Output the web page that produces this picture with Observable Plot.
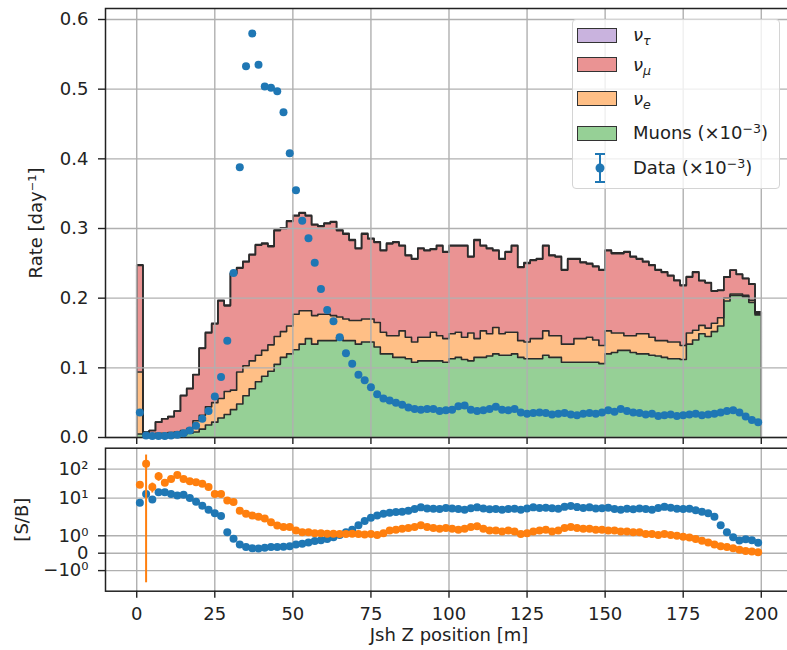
<!DOCTYPE html>
<html><head><meta charset="utf-8">
<script src="https://cdn.jsdelivr.net/npm/d3@7"></script>
<script src="https://cdn.jsdelivr.net/npm/@observablehq/plot@0.6"></script>
<style>
body{margin:0;background:#fff;}
#wrap{position:relative;width:787px;height:650px;overflow:hidden;font-family:"DejaVu Sans",sans-serif;color:#222;}
#bot,#top{position:absolute;left:0;width:800px;}
#top{top:0;}
#bot{top:440px;}
#legend{position:absolute;left:572px;top:19px;width:206px;height:168px;border:1px solid #d4d4d4;border-radius:4px;background:rgba(255,255,255,0.8);}
#legend .row{position:absolute;left:0;height:0;}
#legend .sw{position:absolute;left:4px;top:-7.5px;width:40px;height:15px;border:1.5px solid #333;box-sizing:border-box;}
#legend .lab{position:absolute;left:60px;top:-12px;line-height:24px;white-space:nowrap;font-size:18px;}
#legend sub{font-size:0.7em;vertical-align:-0.3em;line-height:0;}
#legend sup{font-size:0.7em;vertical-align:0.5em;line-height:0;}
</style></head><body>
<div id="wrap"><div id="bot"></div><div id="top"></div>
<div id="legend">
  <div class="row" style="top:15px"><div class="sw" style="background:#c9b3de"></div><div class="lab"><i>ν</i><sub><i>τ</i></sub></div></div>
  <div class="row" style="top:44.5px"><div class="sw" style="background:#ea9393"></div><div class="lab"><i>ν</i><sub><i>μ</i></sub></div></div>
  <div class="row" style="top:78.5px"><div class="sw" style="background:#ffbf86"></div><div class="lab"><i>ν</i><sub><i>e</i></sub></div></div>
  <div class="row" style="top:113px"><div class="sw" style="background:#96d096"></div><div class="lab">Muons (×10<sup>−3</sup>)</div></div>
  <div class="row" style="top:148px">
    <svg style="position:absolute;left:17px;top:-16px" width="20" height="32"><line x1="10" y1="2" x2="10" y2="30" stroke="#1f77b4" stroke-width="2"/><line x1="5" y1="2" x2="15" y2="2" stroke="#1f77b4" stroke-width="2"/><line x1="5" y1="30" x2="15" y2="30" stroke="#1f77b4" stroke-width="2"/><circle cx="10" cy="16" r="4.5" fill="#1f77b4"/></svg>
    <div class="lab">Data (×10<sup>−3</sup>)</div></div>
</div>
</div>
<script>
// ---- data (100 bins of 2 m from 0 to 200 m) ----
const binEdges = d3.range(0, 202, 2);
const binCenters = d3.range(1, 200, 2);
const xTicks = [0, 25, 50, 75, 100, 125, 150, 175, 200];
const rateTicks = [0, 0.1, 0.2, 0.3, 0.4, 0.5, 0.6];
const sbTicks = [-1, 0, 1, 10, 100];
const sbTickLabels = ["−10⁰", "0", "10⁰", "10¹", "10²"];

const muons = [0.005,0.002,0.002,0.002,0.002,0.003,0.003,0.004,0.006,0.008,
 0.012,0.018,0.022,0.028,0.033,0.040,0.048,0.060,0.070,0.080,
 0.088,0.095,0.105,0.115,0.120,0.126,0.134,0.142,0.134,0.139,
 0.139,0.139,0.144,0.139,0.139,0.134,0.137,0.137,0.130,0.120,
 0.120,0.115,0.115,0.113,0.108,0.110,0.110,0.110,0.110,0.108,
 0.113,0.115,0.112,0.110,0.115,0.115,0.117,0.120,0.118,0.118,
 0.120,0.115,0.113,0.113,0.113,0.118,0.115,0.115,0.108,0.108,
 0.108,0.108,0.108,0.108,0.106,0.120,0.122,0.125,0.125,0.122,
 0.120,0.120,0.118,0.117,0.115,0.113,0.113,0.112,0.134,0.140,
 0.149,0.145,0.152,0.160,0.196,0.204,0.204,0.202,0.194,0.176];
const nuE = [0.089,0.003,0.003,0.004,0.004,0.004,0.005,0.006,0.007,0.016,
 0.020,0.026,0.028,0.028,0.033,0.028,0.046,0.043,0.040,0.038,
 0.037,0.038,0.040,0.037,0.040,0.051,0.048,0.040,0.041,0.038,
 0.038,0.036,0.029,0.031,0.029,0.034,0.033,0.033,0.035,0.031,
 0.026,0.031,0.038,0.031,0.029,0.034,0.034,0.041,0.036,0.034,
 0.036,0.036,0.032,0.040,0.027,0.038,0.032,0.038,0.031,0.033,
 0.031,0.024,0.024,0.029,0.029,0.035,0.031,0.031,0.026,0.026,
 0.034,0.034,0.036,0.032,0.026,0.033,0.028,0.025,0.021,0.024,
 0.029,0.029,0.026,0.022,0.024,0.024,0.024,0.020,0.016,0.014,
 0.012,0.012,0.012,0.012,0.004,0.002,0.002,0.002,0.003,0.002];
const nuMu = [0.153,0.003,0.005,0.016,0.021,0.023,0.030,0.050,0.057,0.066,
 0.096,0.106,0.113,0.140,0.123,0.167,0.149,0.149,0.152,0.158,
 0.153,0.141,0.152,0.148,0.150,0.141,0.140,0.136,0.130,0.126,
 0.130,0.134,0.124,0.122,0.115,0.103,0.122,0.115,0.115,0.117,
 0.132,0.134,0.122,0.117,0.119,0.127,0.124,0.119,0.129,0.124,
 0.126,0.124,0.131,0.109,0.141,0.122,0.122,0.110,0.107,0.115,
 0.124,0.105,0.113,0.112,0.114,0.122,0.115,0.113,0.106,0.122,
 0.114,0.109,0.105,0.105,0.108,0.115,0.114,0.114,0.120,0.113,
 0.107,0.103,0.103,0.101,0.098,0.095,0.088,0.086,0.080,0.083,
 0.064,0.065,0.046,0.039,0.030,0.034,0.028,0.024,0.023,0.002];
const nuTau = [0.001,0,0,0,0,0,0,0.0005,0.0005,0.0005,
 0.0005,0.001,0.001,0.001,0.001,0.001,0.001,0.001,0.001,0.001,
 0.001,0.001,0.001,0.001,0.001,0.001,0.001,0.001,0.001,0.001,
 0.001,0.001,0.001,0.001,0.001,0.001,0.001,0.001,0.001,0.001,
 0.001,0.001,0.001,0.001,0.001,0.001,0.001,0.001,0.001,0.001,
 0.001,0.001,0.001,0.001,0.001,0.001,0.001,0.001,0.001,0.001,
 0.001,0.001,0.001,0.001,0.001,0.001,0.001,0.001,0.001,0.001,
 0.001,0.001,0.001,0.001,0.001,0.001,0.001,0.001,0.001,0.001,
 0.001,0.001,0.001,0.001,0.001,0.001,0.001,0.001,0.001,0.001,
 0.0005,0.0005,0.0005,0.0005,0.0005,0.0005,0.0005,0.0005,0.0005,0.0005];
const dataRate = [0.036,0.003,0.002,0.002,0.002,0.003,0.004,0.006,0.010,0.017,
 0.027,0.038,0.059,0.087,0.139,0.236,0.388,0.533,0.580,0.535,
 0.504,0.502,0.497,0.467,0.408,0.355,0.311,0.286,0.251,0.213,
 0.183,0.167,0.144,0.121,0.106,0.090,0.082,0.072,0.062,0.056,
 0.053,0.050,0.047,0.043,0.041,0.040,0.041,0.041,0.038,0.039,
 0.040,0.045,0.046,0.040,0.038,0.039,0.041,0.044,0.040,0.039,
 0.041,0.036,0.034,0.035,0.036,0.035,0.033,0.034,0.035,0.033,
 0.032,0.034,0.035,0.034,0.036,0.039,0.037,0.041,0.038,0.036,
 0.035,0.033,0.034,0.031,0.032,0.033,0.031,0.032,0.033,0.034,
 0.032,0.033,0.034,0.036,0.038,0.039,0.036,0.030,0.025,0.022];
const sbBlue = [6.9,14,9,16,16,14,12.4,13,10,7.5,
 5.5,4.0,3.0,2.4,1.2,0.83,0.5,0.35,0.28,0.27,
 0.32,0.35,0.36,0.37,0.4,0.5,0.55,0.62,0.7,0.75,
 0.82,0.92,1.05,1.2,1.35,1.6,1.85,2.1,2.5,2.9,
 3.1,3.3,3.4,3.7,4.2,4.8,4.4,4.3,4.2,4.6,
 4.4,4.2,4.0,4.5,4.8,4.4,4.1,4.2,4.0,4.2,
 4.3,4.0,4.4,4.8,4.6,4.7,4.5,4.3,5.0,5.4,
 4.9,4.6,4.8,4.4,4.5,4.7,4.2,4.0,4.3,4.1,
 4.4,4.2,4.0,4.6,5.0,4.7,4.3,4.2,4.3,3.8,
 3.4,3.0,2.3,1.6,1.2,0.92,0.73,0.8,0.75,0.6];
const sbBlueErr = [1,3,1.5,2,1.5,1,1,1,0.5,0.4];
const sbOrange = [29,152,24,57,34,46,63,46,38,35,
 31,24,14,14,8.3,7.3,3.7,2.9,2.5,2.3,
 2.0,1.78,1.59,1.5,1.5,1.3,1.2,1.2,1.15,1.15,
 1.12,1.12,1.1,1.1,1.12,1.1,1.08,1.1,1.05,1.15,
 1.3,1.35,1.4,1.45,1.5,1.6,1.5,1.45,1.4,1.45,
 1.4,1.35,1.4,1.5,1.55,1.4,1.3,1.3,1.25,1.3,
 1.25,1.1,1.15,1.25,1.3,1.35,1.25,1.3,1.45,1.5,
 1.45,1.4,1.4,1.35,1.35,1.3,1.3,1.25,1.25,1.2,
 1.2,1.1,1.1,1.05,1.1,1.05,1.0,0.95,0.9,0.82,
 0.72,0.62,0.5,0.4,0.35,0.28,0.2,0.12,0.1,0.05];
const sbOrangeErr = [4,153.7,9,19,6,6,7,4,3,3];

// ---- derived tables ----
const layerNames = ["Muons", "nue", "numu", "nutau"];
const layerValues = [muons, nuE, nuMu, nuTau];
const layerFills = ["#96d096", "#ffbf86", "#ea9393", "#c9b3de"];
let base = new Array(100).fill(0);
const areaRows = [], lineRows = [];
layerValues.forEach((vals, k) => {
  const top = base.map((b, i) => b + vals[i]);
  for (let i = 0; i < 100; i++) areaRows.push({layer: k, x: binEdges[i], lo: base[i], hi: top[i]});
  areaRows.push({layer: k, x: binEdges[100], lo: base[99], hi: top[99]});
  lineRows.push({layer: k, x: binEdges[0], y: base[0]});
  for (let i = 0; i < 100; i++) lineRows.push({layer: k, x: binEdges[i], y: top[i]});
  lineRows.push({layer: k, x: binEdges[100], y: top[99]});
  lineRows.push({layer: k, x: binEdges[100], y: base[99]});
  base = top;
});
const dataRows = binCenters.map((x, i) => ({x, v: dataRate[i]}));
const blueRows = binCenters.map((x, i) => ({x, v: sbBlue[i], e: sbBlueErr[i]}));
const orangeRows = binCenters.map((x, i) => ({x, v: sbOrange[i], e: sbOrangeErr[i]}));

// symmetric-log transform (matplotlib style, linthresh 2)
const LINTHRESH = 2, LINSCALE = 1.2;
function symlog(v) {
  const a = Math.abs(v);
  return a <= LINTHRESH ? v * LINSCALE : Math.sign(v) * LINTHRESH * (LINSCALE + Math.log10(a / LINTHRESH));
}
const sbTickPos = sbTicks.map(symlog);
const sbLabel = new Map(sbTickPos.map((t, i) => [t, sbTickLabels[i]]));

const style = {background: "transparent", overflow: "visible", fontFamily: "DejaVu Sans", fontSize: "18px", color: "#222", maxWidth: "none"};
const gridStyle = {stroke: "#b0b0b0", strokeOpacity: 1, strokeWidth: 1.4};

const topPlot = Plot.plot({
  width: 800, height: 440,
  marginLeft: 105, marginRight: 8, marginTop: 8, marginBottom: 3,
  style,
  x: {domain: [-10, 210]},
  y: {domain: [0, 0.6158]},
  marks: [
    ...layerNames.map((n, k) => Plot.areaY(areaRows.filter(d => d.layer === k), {x: "x", y1: "lo", y2: "hi", curve: "step-after", fill: layerFills[k]})),
    ...layerNames.map((n, k) => Plot.line(lineRows.filter(d => d.layer === k), {x: "x", y: "y", curve: "step-after", stroke: "#2b2b2b", strokeWidth: 1.6})),
    Plot.gridX({ticks: xTicks, ...gridStyle}),
    Plot.gridY({ticks: rateTicks, ...gridStyle}),
    Plot.axisX({ticks: xTicks, tickSize: 7, strokeWidth: 1.4, tickFormat: () => "", label: null}),
    Plot.axisY({ticks: rateTicks, tickSize: 7, tickPadding: 10, strokeWidth: 1.4, tickFormat: d3.format(".1f"),
      label: "Rate [day⁻¹]", labelAnchor: "center", labelOffset: 76, labelArrow: "none"}),
    Plot.frame({stroke: "#222", strokeWidth: 1.5}),
    Plot.dot(dataRows, {x: "x", y: "v", r: 4, fill: "#1f77b4"})
  ]
});

const botPlot = Plot.plot({
  width: 800, height: 210,
  marginLeft: 105, marginRight: 8, marginTop: 7.7, marginBottom: 59.3,
  style,
  x: {domain: [-10, 210]},
  y: {type: "linear", transform: symlog, domain: [-2.62, 7.24]},
  marks: [
    Plot.gridX({ticks: xTicks, ...gridStyle}),
    Plot.gridY({ticks: sbTickPos, ...gridStyle}),
    Plot.axisX({ticks: xTicks, tickSize: 7, tickPadding: 9, strokeWidth: 1.4, tickFormat: d3.format("d"),
      label: "Jsh Z position [m]", labelAnchor: "center", labelOffset: 50, labelArrow: "none"}),
    Plot.axisY({ticks: sbTickPos, tickSize: 7, tickPadding: 10, strokeWidth: 1.4, tickFormat: d => sbLabel.get(d),
      label: "[S/B]", labelAnchor: "center", labelOffset: 90, labelArrow: "none"}),
    Plot.frame({stroke: "#222", strokeWidth: 1.5}),
    Plot.ruleX(blueRows.filter(d => d.e != null), {x: "x", y1: d => d.v - d.e, y2: d => d.v + d.e, stroke: "#1f77b4", strokeWidth: 2}),
    Plot.dot(blueRows, {x: "x", y: "v", r: 4, fill: "#1f77b4"}),
    Plot.ruleX(orangeRows.filter(d => d.e != null), {x: "x", y1: d => d.v - d.e, y2: d => d.v + d.e, stroke: "#ff7f0e", strokeWidth: 2}),
    Plot.dot(orangeRows, {x: "x", y: "v", r: 4, fill: "#ff7f0e"})
  ]
});

document.getElementById("top").append(topPlot);
document.getElementById("bot").append(botPlot);
</script>
</body></html>
